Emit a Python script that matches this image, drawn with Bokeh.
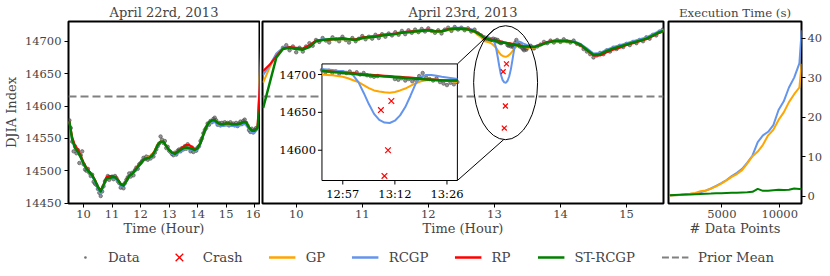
import numpy as np
from bokeh.plotting import figure
from bokeh.layouts import row, column
from bokeh.models import Range1d, Legend, LegendItem
from bokeh.core.properties import value
from bokeh.embed import file_html
from bokeh.resources import INLINE

FONT = "DejaVu Serif"
TICK_FS = "11.5px"
LAB_FS = "13px"
LEG_FS = "13.3px"

C_GP = "#FFA500"
C_RCGP = "#6495ED"
C_RP = "#FF0000"
C_ST = "#008000"
C_DATA = "#4d4d4d"
C_PRIOR = "#808080"

PRIOR_MEAN = 14615

# ---------------- April 22 (day 1) ----------------
day1_data_t = np.linspace(9.50, 16.05, 132)
day1_data_v = [
    14578, 14566, 14545, 14530, 14538, 14527, 14532, 14512, 14524, 14530,
    14510, 14502, 14500, 14503, 14497, 14492, 14494, 14483, 14480, 14478,
    14472, 14466, 14461, 14468, 14476, 14484, 14487, 14492, 14486, 14490,
    14491, 14487, 14492, 14489, 14484, 14481, 14474, 14478, 14473, 14481,
    14486, 14490, 14496, 14491, 14497, 14493, 14501, 14505, 14503, 14510,
    14512, 14515, 14520, 14518, 14522, 14517, 14521, 14519, 14524, 14522,
    14528, 14533, 14538, 14542, 14553, 14548, 14543, 14546, 14535, 14537,
    14531, 14529, 14526, 14524, 14528, 14525, 14531, 14533, 14530, 14535,
    14533, 14538, 14534, 14541, 14537, 14530, 14536, 14529, 14533, 14531,
    14536, 14538, 14546, 14550, 14558, 14563, 14566, 14573, 14571, 14577,
    14575, 14580, 14582, 14578, 14571, 14574, 14570, 14574, 14571, 14575,
    14572, 14574, 14570, 14575, 14571, 14573, 14570, 14574, 14569, 14573,
    14576, 14572, 14577, 14579, 14574, 14570, 14563, 14560, 14565, 14559,
    14563, 14566,
]

day1_fit_t = list(np.linspace(9.5, 16.1, 67)) + [16.25]
day1_gp = [
    14576, 14549, 14536, 14529, 14521, 14511, 14503, 14498, 14492, 14485,
    14475, 14468, 14477, 14487, 14489, 14490, 14489, 14485, 14479, 14477,
    14484, 14491, 14495, 14500, 14506, 14511, 14517, 14520, 14522, 14525,
    14532, 14541, 14545, 14544, 14537, 14531, 14527, 14526, 14529, 14532,
    14535, 14536, 14535, 14533, 14532, 14535, 14543, 14556, 14568, 14575,
    14578, 14577, 14573, 14572, 14572, 14572, 14572, 14572, 14571, 14571,
    14572, 14574, 14574, 14566, 14561, 14561, 14565, 14720,
]
day1_rcgp = [
    14575, 14547, 14534, 14528, 14520, 14510, 14502, 14497, 14491, 14483,
    14472, 14465, 14476, 14487, 14488, 14489, 14488, 14484, 14477, 14475,
    14483, 14491, 14494, 14499, 14505, 14510, 14516, 14518, 14519, 14522,
    14529, 14539, 14544, 14544, 14537, 14530, 14526, 14524, 14527, 14530,
    14533, 14534, 14533, 14532, 14530, 14533, 14541, 14554, 14566, 14573,
    14575, 14575, 14571, 14569, 14569, 14570, 14570, 14569, 14569, 14569,
    14570, 14572, 14572, 14564, 14559, 14559, 14564, 14700,
]
day1_rp = [
    14577, 14552, 14539, 14533, 14524, 14513, 14505, 14499, 14494, 14486,
    14476, 14470, 14479, 14490, 14492, 14492, 14491, 14487, 14480, 14478,
    14485, 14492, 14496, 14501, 14507, 14512, 14517, 14519, 14520, 14524,
    14531, 14540, 14545, 14545, 14538, 14532, 14528, 14527, 14530, 14534,
    14537, 14540, 14540, 14537, 14533, 14535, 14543, 14556, 14567, 14575,
    14578, 14578, 14574, 14572, 14572, 14573, 14573, 14572, 14572, 14572,
    14573, 14575, 14575, 14567, 14563, 14562, 14567, 14690,
]
day1_st = [
    14576, 14548, 14535, 14529, 14521, 14511, 14503, 14498, 14493, 14485,
    14475, 14468, 14478, 14488, 14489, 14490, 14490, 14486, 14479, 14477,
    14484, 14492, 14495, 14500, 14506, 14511, 14517, 14519, 14520, 14523,
    14530, 14540, 14545, 14545, 14538, 14532, 14528, 14526, 14529, 14532,
    14535, 14536, 14535, 14534, 14532, 14535, 14543, 14556, 14568, 14575,
    14578, 14578, 14574, 14572, 14572, 14573, 14573, 14572, 14572, 14572,
    14573, 14575, 14575, 14567, 14562, 14562, 14566, 14615,
]

# ---------------- April 23 (day 2) ----------------
day2_data_t = (list(np.linspace(9.80, 12.80, 61))
               + [12.85 + k / 60 for k in range(40) if k not in (17, 18, 19, 20)]
               + list(np.linspace(13.55, 15.55, 41)))
day2_data_v = [
    14690, 14694, 14686, 14692,
    14683, 14690, 14684, 14692, 14697, 14693, 14702, 14699, 14705, 14701,
    14698, 14706, 14703, 14700, 14707, 14702, 14698, 14705, 14700, 14704,
    14708, 14703, 14707, 14704, 14710, 14705, 14711, 14707, 14712, 14709,
    14714, 14710, 14716, 14711, 14717, 14713, 14718, 14714, 14719, 14715,
    14720, 14716, 14713, 14717, 14712, 14718, 14721, 14716, 14722, 14718,
    14721, 14717, 14720, 14715, 14718, 14712, 14709,
    # minute data around the crash window
    14706, 14703, 14705, 14702, 14704, 14701, 14703, 14702, 14704, 14701,
    14703, 14700, 14702, 14699, 14698, 14697, 14698,
    14694, 14693, 14695, 14692, 14694, 14691, 14693, 14698, 14702, 14696,
    14694, 14692, 14695, 14690, 14688, 14686, 14689, 14687, 14690,
    # afternoon
    14693, 14689, 14692, 14695, 14699, 14697, 14701, 14698, 14702,
    14699, 14703, 14700, 14698, 14701, 14696, 14694, 14688, 14684, 14680,
    14675, 14678, 14682, 14680, 14686, 14684, 14690, 14688, 14693, 14691,
    14696, 14694, 14699, 14697, 14702, 14700, 14706, 14704, 14710, 14709,
    14715, 14718,
]

day2_fit_t = list(np.linspace(9.5, 12.8, 34)) + list(np.linspace(12.85, 13.45, 25)) + list(np.linspace(13.5, 15.6, 22))
day2_gp = [
    14636, 14660, 14680, 14689, 14690, 14688, 14688, 14692, 14700, 14702,
    14703, 14703, 14703, 14703, 14702, 14704, 14706, 14707, 14709, 14710,
    14711, 14713, 14714, 14715, 14716, 14716, 14715, 14715, 14717, 14719,
    14719, 14718, 14714, 14706,
    14700, 14699.5, 14699, 14698, 14697, 14695, 14692.5, 14690, 14686, 14682,
    14679, 14677.5, 14676.5, 14676, 14677, 14679, 14681.5, 14685, 14688.5, 14691,
    14692.5, 14693, 14693, 14692.5, 14692,
    14690, 14690, 14694, 14698, 14700, 14700, 14700, 14699, 14695, 14687,
    14679, 14680, 14685, 14689, 14692, 14695, 14698, 14701, 14704, 14709,
    14714, 14717,
]
day2_rcgp = [
    14648, 14663, 14681, 14690, 14691, 14689, 14688, 14693, 14701, 14703,
    14703, 14704, 14704, 14703, 14703, 14705, 14707, 14708, 14710, 14711,
    14712, 14714, 14715, 14716, 14717, 14718, 14716, 14716, 14719, 14721,
    14721, 14720, 14717, 14710,
    14707, 14706.5, 14706, 14705, 14704.5, 14703, 14699, 14690, 14676, 14661,
    14648, 14640, 14636.5, 14636, 14639, 14646, 14657, 14672, 14688, 14697,
    14699.5, 14699.5, 14698.5, 14697, 14696,
    14694, 14692, 14695, 14699, 14701, 14701, 14701, 14700, 14696, 14689,
    14681, 14682, 14687, 14691, 14694, 14697, 14700, 14703, 14706, 14711,
    14716, 14719,
]
day2_rp = [
    14654, 14664, 14677, 14689, 14691, 14690, 14689, 14694, 14701, 14702,
    14702, 14704, 14705, 14703, 14703, 14706, 14707, 14708, 14710, 14711,
    14712, 14714, 14715, 14716, 14717, 14718, 14716, 14716, 14719, 14720,
    14720, 14719, 14716, 14710,
    14705, 14704.5, 14704, 14703.5, 14703, 14702.5, 14702, 14701, 14700.5, 14700,
    14699.5, 14699, 14698.5, 14698, 14697.5, 14697, 14696.5, 14696, 14695.5, 14695,
    14694, 14693.5, 14693, 14692.5, 14692,
    14692, 14691, 14695, 14699, 14701, 14701, 14701, 14699, 14694, 14686,
    14678, 14678, 14683, 14687, 14690, 14694, 14697, 14700, 14703, 14708,
    14713, 14716,
]
day2_st = [
    14597, 14636, 14675, 14688, 14690, 14688, 14687, 14691, 14700, 14702,
    14703, 14703, 14704, 14703, 14702, 14705, 14706, 14707, 14709, 14710,
    14711, 14713, 14714, 14715, 14716, 14717, 14715, 14715, 14718, 14719,
    14719, 14718, 14715, 14709,
    14705, 14704, 14703.5, 14703, 14702, 14701.5, 14701, 14700, 14699.5, 14699,
    14698.5, 14698, 14697.5, 14697, 14696.5, 14696, 14695.5, 14695, 14694.5, 14694,
    14693.5, 14693, 14692.5, 14692, 14692,
    14692, 14691, 14694, 14698, 14700, 14700, 14700, 14699, 14695, 14687,
    14679, 14680, 14685, 14689, 14692, 14695, 14698, 14701, 14704, 14709,
    14714, 14717,
]

crash_t = [13.133, 13.150, 13.167, 13.183]
crash_v = [14653, 14566, 14600, 14665]

# ---------------- Execution time ----------------
exec_n = [460, 900, 1350, 1800, 2250, 2700, 3150, 3600, 4050, 4500, 4950, 5400, 5850,
          6300, 6750, 7200, 7650, 8100, 8550, 9000, 9450, 9900, 10350, 10800, 11250,
          11700, 11900]
exec_gp = [0.17, 0.25, 0.3, 0.45, 0.6, 0.8, 1.25, 1.45, 1.9, 2.5, 3.2, 4.0, 4.9,
           5.6, 6.6, 8.3, 10.1, 11.3, 13.0, 15.4, 16.8, 19.3, 21.2, 23.8, 25.8,
           27.5, 33.5]
exec_rcgp = [0.17, 0.25, 0.3, 0.4, 0.55, 0.7, 1.0, 1.4, 1.95, 2.6, 3.3, 4.1, 5.1,
             5.9, 6.9, 8.5, 10.3, 13.7, 15.4, 16.3, 18.0, 21.8, 24.0, 27.5, 30.0,
             33.6, 42.0]
exec_st = [0.25, 0.3, 0.35, 0.4, 0.45, 0.5, 0.55, 0.6, 0.65, 0.72, 0.75, 0.8, 0.85,
           0.9, 0.95, 1.0, 1.1, 1.85, 1.35, 1.4, 1.5, 1.6, 1.55, 1.65, 1.95,
           1.8, 1.85]

# ticks
day1_xticks = [10, 11, 12, 13, 14, 15, 16]
day2_xticks = [10, 11, 12, 13, 14, 15]
dj_yticks = [14450, 14500, 14550, 14600, 14650, 14700]
exec_xticks = [5000, 10000]
exec_yticks = [0, 10, 20, 30, 40]
inset_xticks = [12.95, 13.2, 13.45]
inset_xlabels = ["12:57", "13:12", "13:26"]
inset_yticks = [14600, 14650, 14700]

# inset geometry (layout)
IX0, IX1, IY0, IY1 = 12.85, 13.5, 14560, 14714          # inset's own view
TX0, TX1, TY0, TY1 = 10.39, 12.44, 14485, 14665          # where it sits in panel 2
ELL_X, ELL_Y, ELL_W, ELL_H = 13.17, 14636, 0.968, 176


def style(p):
    for ax in p.axis:
        ax.major_label_text_font = FONT
        ax.major_label_text_font_size = TICK_FS
        ax.axis_label_text_font = FONT
        ax.axis_label_text_font_size = LAB_FS
        ax.axis_label_text_font_style = "normal"
        ax.axis_line_color = None
        ax.major_tick_out = 4
        ax.major_tick_in = 0
        ax.minor_tick_out = 0
        ax.minor_tick_in = 0
        ax.major_tick_line_color = "black"
        ax.major_label_standoff = 2
        ax.axis_label_standoff = 0
    p.grid.visible = False
    p.outline_line_color = "black"
    p.outline_line_width = 2
    p.title.text_font = FONT
    p.title.text_font_size = LAB_FS
    p.title.text_font_style = "normal"
    p.title.align = "center"
    p.title.standoff = 3


H = 239
TOP = 21
BOT = 36
YR = Range1d(14449.5, 14730.5)

# ---------- panel 1 ----------
p1 = figure(width=260, height=H, x_range=Range1d(9.47, 16.17), y_range=YR,
            output_backend="svg", toolbar_location=None, title="April 22rd, 2013",
            x_axis_label="Time (Hour)", y_axis_label="DJIA Index",
            min_border_left=67, min_border_right=1, min_border_top=TOP, min_border_bottom=BOT)
style(p1)
p1.yaxis.axis_label_standoff = 3
p1.yaxis.major_label_standoff = 3
p1.xaxis.ticker = day1_xticks
p1.yaxis.ticker = dj_yticks
p1.scatter(day1_data_t, day1_data_v, size=3.5, color=C_DATA, alpha=0.6)
p1.hspan(y=[PRIOR_MEAN], line_color=C_PRIOR, line_width=2, line_dash="8 4")
for vals, col, w in [(day1_gp, C_GP, 2), (day1_rcgp, C_RCGP, 2), (day1_rp, C_RP, 2), (day1_st, C_ST, 2.5)]:
    p1.line(day1_fit_t, vals, line_color=col, line_width=w, line_join="round")

# ---------- panel 2 ----------
p2 = figure(width=405, height=H, x_range=Range1d(9.49, 15.56), y_range=YR,
            output_backend="svg", toolbar_location=None, title="April 23rd, 2013",
            x_axis_label="Time (Hour)", y_axis_location=None,
            min_border_left=2, min_border_right=2, min_border_top=TOP, min_border_bottom=BOT)
style(p2)
p2.xaxis.ticker = day2_xticks
p2.scatter(day2_data_t, day2_data_v, size=3.5, color=C_DATA, alpha=0.6)
p2.hspan(y=[PRIOR_MEAN], line_color=C_PRIOR, line_width=2, line_dash="8 4")
fits2 = [(day2_gp, C_GP, 2), (day2_rcgp, C_RCGP, 2), (day2_rp, C_RP, 2), (day2_st, C_ST, 2.5)]
for vals, col, w in fits2:
    p2.line(day2_fit_t, vals, line_color=col, line_width=w, line_join="round")
p2.scatter(crash_t, crash_v, marker="x", size=7, line_color=C_RP, line_width=1.2)
p2.ellipse(x=[ELL_X], y=[ELL_Y], width=[ELL_W], height=[ELL_H], fill_color=None,
           line_color="black", line_width=1)
a, b = ELL_W / 2, ELL_H / 2
p2.segment(x0=[TX1, TX1], y0=[TY1, TY0],
           x1=[ELL_X - 0.35 * a, ELL_X - 0.06 * a],
           y1=[ELL_Y + b * np.sqrt(1 - 0.35 ** 2), ELL_Y - b * np.sqrt(1 - 0.06 ** 2)],
           line_color="black", line_width=1)

# inset as a sub-coordinate system of panel 2
sub = p2.subplot(x_source=Range1d(IX0, IX1), y_source=Range1d(IY0, IY1),
                 x_target=Range1d(TX0, TX1), y_target=Range1d(TY0, TY1))
sub.quad(left=[IX0], right=[IX1], bottom=[IY0], top=[IY1], fill_color="white",
         line_color="black", line_width=1)
win_d = [(t, v) for t, v in zip(day2_data_t, day2_data_v) if IX0 - 1e-9 <= t <= IX1 + 1e-9]
sub.scatter([t for t, _ in win_d], [v for _, v in win_d], size=3.5, color=C_DATA, alpha=0.6)
for vals, col, w in fits2:
    win = [(t, v) for t, v in zip(day2_fit_t, vals) if IX0 - 1e-9 <= t <= IX1 + 1e-9]
    sub.line([t for t, _ in win], [v for _, v in win], line_color=col, line_width=w, line_join="round")
sub.scatter(crash_t, crash_v, marker="x", size=8, line_color=C_RP, line_width=1.2)
sub.ray(x=[IX0] * 3, y=inset_yticks, length=4, length_units="screen", angle=np.pi,
        line_color="black", line_width=1)
sub.ray(x=inset_xticks, y=[IY0] * 3, length=4, length_units="screen", angle=-np.pi / 2,
        line_color="black", line_width=1)
sub.text(x=[IX0] * 3, y=inset_yticks, text=[str(v) for v in inset_yticks], x_offset=-6,
         text_align="right", text_baseline="middle", text_font=value(FONT),
         text_font_size=value(TICK_FS), text_color="black")
sub.text(x=inset_xticks, y=[IY0] * 3, text=inset_xlabels, y_offset=6,
         text_align="center", text_baseline="top", text_font=value(FONT),
         text_font_size=value(TICK_FS), text_color="black")

# ---------- panel 3 ----------
p3 = figure(width=160, height=H, x_range=Range1d(385, 11884), y_range=Range1d(-1.85, 44.2),
            output_backend="svg", toolbar_location=None, title="Execution Time (s)",
            x_axis_label="# Data Points", y_axis_location="right",
            min_border_left=3, min_border_right=22, min_border_top=TOP, min_border_bottom=BOT)
style(p3)
p3.title.text_font_size = "11.8px"
p3.xaxis.ticker = exec_xticks
p3.yaxis.ticker = exec_yticks
p3.line(exec_n, exec_rcgp, line_color=C_RCGP, line_width=2)
p3.line(exec_n, exec_gp, line_color=C_GP, line_width=2)
p3.line(exec_n, exec_st, line_color=C_ST, line_width=2)

# ---------- legend strip (its renderers fall outside its own 0..1 view) ----------
lf = figure(width=830, height=36, x_range=Range1d(0, 1), y_range=Range1d(0, 1),
            x_axis_location=None, y_axis_location=None, output_backend="svg",
            toolbar_location=None, min_border=0, min_border_left=15)
lf.grid.visible = False
lf.outline_line_color = None
r_data = lf.scatter(day1_data_t, day1_data_v, marker="dot", size=11, line_color=C_DATA,
                    fill_color=C_DATA, line_alpha=0.8)
r_crash = lf.scatter(crash_t, crash_v, marker="x", size=11, line_color=C_RP, line_width=1.3)
r_gp = lf.line(day1_fit_t, day1_gp, line_color=C_GP, line_width=2.5)
r_rcgp = lf.line(day1_fit_t, day1_rcgp, line_color=C_RCGP, line_width=2.5)
r_rp = lf.line(day1_fit_t, day1_rp, line_color=C_RP, line_width=2.5)
r_st = lf.line(day1_fit_t, day1_st, line_color=C_ST, line_width=2.5)
r_prior = lf.line([day1_fit_t[0], day1_fit_t[-1]], [PRIOR_MEAN, PRIOR_MEAN],
                  line_color=C_PRIOR, line_width=2, line_dash="7 3")
legend = Legend(items=[LegendItem(label="Data", renderers=[r_data]),
                       LegendItem(label="Crash", renderers=[r_crash]),
                       LegendItem(label="GP", renderers=[r_gp]),
                       LegendItem(label="RCGP", renderers=[r_rcgp]),
                       LegendItem(label="RP", renderers=[r_rp]),
                       LegendItem(label="ST-RCGP", renderers=[r_st]),
                       LegendItem(label="Prior Mean", renderers=[r_prior])],
                orientation="horizontal", location="center", glyph_width=27, glyph_height=27,
                label_standoff=10, spacing=26, padding=0, margin=0, border_line_color=None,
                background_fill_alpha=0, label_text_font=FONT, label_text_font_size=LEG_FS)
lf.add_layout(legend)

layout = column(row(p1, p2, p3), lf)
open("out.html", "w").write(file_html(layout, INLINE))
